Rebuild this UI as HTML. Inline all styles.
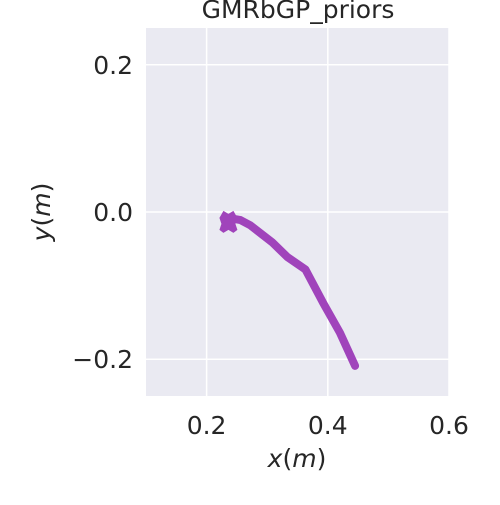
<!DOCTYPE html>
<html><head><meta charset="utf-8"><style>
body{margin:0;background:#fff;width:500px;height:500px;overflow:hidden}
text{font-family:"DejaVu Sans","Liberation Sans",sans-serif;fill:#262626}
</style></head><body>
<svg id="chart" width="500" height="500">
<rect x="146" y="28" width="303" height="368" fill="#eaeaf2"/>
<g id="grid"></g><g id="marks"></g><g id="ticks"></g>
<text x="298" y="18" text-anchor="middle" font-size="25">GMRbGP_priors</text>
<text x="297" y="467" text-anchor="middle" font-size="25"><tspan font-style="italic">x</tspan>(<tspan font-style="italic">m</tspan>)</text>
<text transform="translate(50,212) rotate(-90)" text-anchor="middle" font-size="25"><tspan font-style="italic">y</tspan>(<tspan font-style="italic">m</tspan>)</text>
</svg>
<script>
const xTicks=[0.2,0.4,0.6];
const xTickLabels=["0.2","0.4","0.6"];
const yTicks=[0.2,0.0,-0.2];
const yTickLabels=["0.2","0.0","\u22120.2"];
const trajX=[0.236,0.256,0.272,0.308,0.333,0.363,0.392,0.420,0.445];
const trajY=[-0.008,-0.011,-0.018,-0.041,-0.061,-0.078,-0.123,-0.164,-0.209];
const NS="http://www.w3.org/2000/svg";
const sx=v=>146+(v-0.1)/0.5*303;
const sy=v=>28+(0.25-v)/0.5*368;
const grid=document.getElementById('grid'),ticks=document.getElementById('ticks'),marks=document.getElementById('marks');
function mk(tag,attrs,parent){const e=document.createElementNS(NS,tag);for(const k in attrs)e.setAttribute(k,attrs[k]);parent.appendChild(e);return e;}
xTicks.forEach((v,i)=>{
 const l=mk('line',{x1:sx(v),x2:sx(v),y1:28,y2:396,stroke:'#fff','stroke-width':1.5},grid);
 
 
 const t=mk('text',{x:sx(v),y:434,'text-anchor':'middle','font-size':25},ticks);
 t.textContent=xTickLabels[i];
 
 
});
yTicks.forEach((v,i)=>{
 const l=mk('line',{x1:146,x2:449,y1:sy(v),y2:sy(v),stroke:'#fff','stroke-width':1.5},grid);
 
 
 const t=mk('text',{x:133,y:sy(v)+9,'text-anchor':'end','font-size':25},ticks);
 t.textContent=yTickLabels[i];
 
 
});
const d=trajX.map((x,i)=>(i?'L':'M')+sx(x)+','+sy(trajY[i])).join(' ');
const p=mk('path',{d:d,fill:'none',stroke:'#a044bb','stroke-width':8,'stroke-linejoin':'round','stroke-linecap':'round'},marks);


const b=mk('path',{d:'M'+(sx(trajX[0])-9)+','+sy(trajY[0])+' l4,-7 l5,3 l5,-3 l4,7 l-2,6 l2,6 l-4,3 l-5,-3 l-5,3 l-4,-3 l2,-6z',fill:'#a044bb'},marks);


</script>
</body></html>
